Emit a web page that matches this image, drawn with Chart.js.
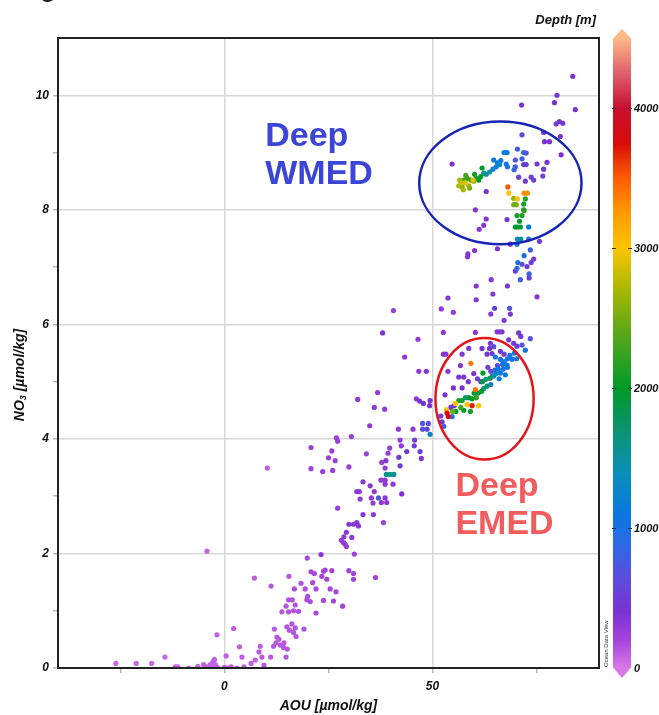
<!DOCTYPE html>
<html>
<head>
<meta charset="utf-8">
<script src="https://cdn.jsdelivr.net/npm/chart.js@4.4.1/dist/chart.umd.min.js"></script>
<style>
  body { margin: 0; background: #fff; }
  canvas { display: block; }
</style>
</head>
<body>
<canvas id="odvChart" width="659" height="715"></canvas>
<script>
// AOU [umol/kg] per sample
const aou = [
  -26.1, -21.2, -17.5, -14.3, -11.8, -11.2, -8.6, -6.4, -5.0, -4.2,
  -3.4, -2.8, -2.2, -1.7, -2.8, -2.4, -1.8, -4.2, 0.4, 0.0,
  0.8, 2.2, 3.6, 4.2, 1.6, 3.0, 4.7, 6.4, 7.4, 8.3,
  8.6, 9.0, 9.5, 7.2, 10.3, 11.2, 11.1, 12.0, 12.6, 11.8,
  12.4, 13.1, 14.2, 14.8, 15.1, 15.5, 13.8, 14.8, 15.4, 15.4,
  16.3, 17.0, 16.6, 17.8, 15.0, 15.6, 16.2, 16.6, 17.0, 17.2,
  14.3, 13.4, 16.8, 18.4, 19.4, 20.0, 19.8, 20.6, 21.2, 22.0,
  19.1, 22.0, 20.8, 21.6, 23.4, 23.8, 24.2, 24.6, 25.8, 19.9,
  23.2, 23.8, 25.4, 26.8, 26.2, 28.4, 29.9, 31.0, 31.0, 31.2,
  28.1, 28.6, 29.0, 29.3, 28.7, 29.3, 30.6, 29.9, 31.0, 31.8,
  32.2, 33.3, 35.8, 38.2, 36.3, 27.2, 31.8, 32.4, 32.6, 33.3,
  35.0, 36.0, 35.3, 35.7, 37.0, 37.7, 38.6, 39.0, 37.6, 38.6,
  38.6, 40.5, 38.9, 39.8, 40.7, 37.8, 38.8, 39.3, 39.7, 38.6,
  42.6, 42.2, 41.9, 42.2, 42.5, 41.8, 43.8, 45.7, 45.6, 47.0,
  47.3, 45.3, 47.6, 49.0, 47.6, 48.7, 49.4, 49.3, 47.8, 34.9,
  34.1, 30.5, 29.9, 26.9, 27.2, 25.8, 25.0, 26.6, 26.0, 23.6,
  20.8, 20.8, 46.9, 40.6, 38.0, 46.5, 43.3, 46.7, 36.8, 32.0,
  36.0, 38.5, 46.1, 48.5, 67.2, 52.6, 60.3, 65.5, 66.1, 66.7,
  70.7, 71.2, 73.5, 68.3, 69.5, 70.3, 71.5, 72.3, 63.9, 63.7,
  64.7, 61.9, 58.7, 52.6, 53.2, 57.1, 63.1, 64.3, 65.1, 66.3,
  66.3, 67.2, 67.2, 67.9, 69.1, 56.7, 53.7, 56.3, 57.5, 59.2,
  59.9, 60.8, 61.6, 62.1, 63.3, 64.0, 65.0, 64.7, 65.6, 66.3,
  66.0, 67.0, 67.5, 68.0, 53.5, 53.8, 54.7, 52.0, 52.3, 52.7,
  53.3, 54.4, 55.2, 55.5, 56.3, 57.1, 57.9, 58.7, 59.5, 58.3,
  59.5, 61.1, 57.5, 59.1, 60.0, 61.0, 61.8, 62.3, 63.1, 64.0,
  60.3, 62.0, 62.8, 63.8, 64.4, 65.3, 65.8, 66.8, 68.0, 68.6,
  69.7, 70.2, 60.5, 56.8, 55.6, 54.8, 53.0, 55.0, 57.1, 58.6,
  49.4, 60.3, 62.9, 62.3, 61.2, 67.9, 70.3, 71.5, 72.0, 70.9,
  69.9, 70.4, 71.1, 73.1, 70.4, 71.2, 73.1, 70.3, 75.7, 68.7,
  65.6, 60.1, 58.5, 58.4, 73.5, 72.0, 74.3, 73.7, 72.7, 71.5,
  70.5, 70.3, 69.9, 73.2, 73.2, 71.1, 64.1, 60.5, 68.0, 64.5,
  75.1, 53.7, 60.5, 52.1, 55.0, 64.9, 68.5, 64.0, 68.7, 79.9,
  79.3, 84.3, 71.4, 79.7, 80.5, 81.3, 71.5, 76.7, 76.9, 78.1,
  80.7, 80.9, 70.4, 71.9, 72.5, 67.2, 67.9, 71.5, 69.9, 66.4,
  65.6, 64.7, 71.9, 72.5, 75.1, 77.5, 76.7, 76.5, 69.9, 69.6,
  67.7, 68.0, 70.7, 72.3, 73.7, 74.3, 54.7, 62.9, 56.5, 56.3,
  57.1, 57.5, 58.3, 58.7, 59.2, 59.9, 60.5, 61.1, 61.6, 61.9,
  62.3, 62.9, 63.7, 64.5, 65.3, 66.1, 59.7, 57.9, 56.9, 58.0,
  60.1, 57.4, 58.9, 68.1, 68.3, 70.4, 72.0, 72.8, 69.5, 72.3,
  69.5, 70.1, 71.9, 71.9, 83.7
];

// NO3 [umol/kg] per sample
const no3 = [
  0.08, 0.08, 0.08, 0.19, 0.02, 0.02, 0.0, 0.03, 0.06, 0.02,
  0.06, 0.03, 0.06, 0.01, 0.11, 0.15, 0.58, 2.04, 0.21, 0.01,
  0.0, 0.69, 0.37, 0.19, 0.02, 0.0, 0.02, 0.08, 0.14, 0.28,
  0.38, 0.19, 0.05, 1.57, 3.49, 1.43, 0.19, 0.68, 0.54, 0.38,
  0.44, 0.5, 0.36, 0.19, 0.33, 1.6, 0.98, 1.08, 0.98, 1.19,
  1.19, 1.1, 1.0, 0.99, 0.72, 0.66, 0.77, 0.62, 0.7, 0.55,
  0.44, 0.4, 1.38, 1.48, 1.38, 1.25, 1.19, 1.16, 1.49, 1.38,
  0.68, 0.96, 1.68, 1.65, 1.6, 1.69, 1.71, 1.55, 1.7, 1.92,
  1.98, 1.18, 1.38, 1.33, 1.17, 1.08, 1.7, 1.65, 1.55, 1.99,
  2.23, 2.19, 2.16, 2.12, 2.29, 2.37, 2.28, 2.51, 2.51, 2.54,
  2.48, 2.68, 2.68, 2.54, 1.58, 2.79, 3.08, 3.08, 2.95, 3.25,
  3.18, 3.08, 2.97, 2.88, 2.97, 2.89, 2.97, 2.89, 3.28, 3.28,
  3.21, 3.21, 3.38, 3.38, 3.38, 3.59, 3.62, 3.75, 3.84, 3.49,
  3.04, 3.53, 3.68, 3.98, 3.88, 4.17, 3.78, 3.98, 3.88, 3.78,
  3.66, 4.17, 4.27, 4.27, 4.17, 4.17, 4.08, 4.58, 4.62, 4.23,
  3.74, 4.04, 3.51, 4.02, 3.96, 3.79, 3.67, 3.62, 3.45, 3.43,
  3.85, 3.48, 4.66, 6.24, 5.85, 5.74, 5.43, 5.18, 4.81, 4.69,
  4.55, 4.52, 4.70, 5.18, 6.07, 5.86, 5.86, 5.87, 5.87, 5.87,
  5.85, 5.79, 5.75, 5.73, 5.67, 5.62, 5.64, 5.55, 5.67, 5.58,
  5.61, 5.58, 5.58, 5.48, 5.48, 5.48, 5.48, 5.49, 5.43, 5.53,
  5.39, 5.48, 5.35, 5.29, 5.39, 5.28, 5.18, 5.08, 5.08, 5.32,
  5.14, 5.05, 5.0, 5.15, 5.25, 5.18, 5.2, 5.1, 5.28, 5.15,
  5.05, 5.22, 5.12, 5.25, 4.45, 4.39, 4.39, 4.4, 4.3, 4.22,
  4.51, 4.55, 4.58, 4.62, 4.67, 4.67, 4.72, 4.72, 4.7, 4.6,
  4.58, 4.58, 4.5, 4.48, 4.8, 4.8, 4.83, 4.88, 4.92, 4.95,
  4.86, 5.0, 5.04, 5.06, 5.1, 5.14, 5.22, 5.3, 5.4, 5.46,
  5.5, 5.4, 4.72, 4.55, 4.48, 4.48, 4.77, 4.89, 4.89, 5.0,
  4.67, 8.0, 7.84, 7.73, 7.66, 7.83, 7.9, 7.9, 7.99, 7.8,
  7.7, 7.7, 7.7, 7.7, 7.49, 7.49, 7.49, 7.4, 7.45, 7.4,
  7.32, 7.29, 7.23, 7.18, 7.3, 7.2, 7.14, 7.08, 7.01, 7.05,
  7.08, 6.98, 6.93, 6.88, 6.81, 6.78, 6.78, 6.67, 6.67, 6.53,
  6.48, 6.46, 6.43, 6.27, 6.21, 6.28, 6.28, 6.18, 6.18, 10.0,
  9.87, 9.75, 9.83, 9.5, 9.54, 9.51, 9.31, 9.35, 9.19, 9.19,
  9.28, 8.96, 9.06, 9.0, 8.99, 9.0, 9.0, 8.89, 8.87, 8.86,
  8.82, 8.87, 8.79, 8.79, 8.8, 8.83, 8.71, 8.59, 8.75, 8.7,
  8.8, 8.75, 8.57, 8.5, 8.57, 8.52, 8.8, 8.32, 8.52, 8.42,
  8.4, 8.52, 8.55, 8.42, 8.52, 8.5, 8.55, 8.52, 8.58, 8.73,
  8.64, 8.62, 8.66, 8.71, 8.75, 8.79, 8.52, 8.47, 8.47, 8.6,
  8.62, 8.35, 8.38, 8.4, 8.29, 8.19, 8.29, 8.29, 8.2, 8.19,
  8.09, 8.09, 8.1, 8.0, 10.33
];

// sample depth [m], used for the colour
const depth = [
  60, 60, 60, 60, 70, 70, 70, 70, 80, 80,
  80, 80, 80, 80, 90, 90, 90, 80, 90, 90,
  90, 100, 100, 100, 100, 100, 100, 100, 100, 110,
  110, 110, 110, 110, 110, 120, 120, 120, 120, 120,
  120, 120, 130, 130, 130, 140, 140, 140, 140, 140,
  150, 150, 150, 150, 140, 140, 140, 140, 140, 140,
  130, 130, 160, 160, 160, 170, 170, 170, 180, 180,
  150, 180, 190, 190, 200, 200, 200, 200, 200, 180,
  320, 190, 200, 200, 200, 200, 220, 220, 220, 230,
  260, 300, 260, 260, 300, 350, 300, 330, 330, 330,
  330, 350, 300, 250, 230, 250, 330, 330, 300, 330,
  330, 300, 300, 300, 700, 330, 330, 330, 300, 300,
  300, 300, 1600, 1600, 1600, 280, 350, 280, 280, 280,
  400, 450, 450, 300, 300, 300, 500, 500, 500, 500,
  350, 300, 700, 700, 650, 600, 1300, 400, 400, 300,
  250, 250, 250, 250, 250, 250, 250, 250, 250, 250,
  230, 230, 400, 250, 400, 300, 300, 300, 300, 300,
  300, 300, 300, 350, 350, 300, 300, 350, 350, 350,
  450, 450, 700, 450, 500, 500, 700, 1000, 400, 400,
  600, 400, 350, 350, 350, 350, 450, 500, 1000, 450,
  1000, 500, 1100, 1100, 1100, 350, 350, 400, 400, 3400,
  450, 450, 500, 2000, 500, 600, 800, 1000, 600, 1100,
  1200, 1000, 1100, 1000, 3800, 3800, 1000, 500, 500, 800,
  3000, 500, 500, 3000, 2100, 2100, 1600, 2000, 2000, 3000,
  3700, 3000, 2000, 2100, 2000, 1800, 2000, 1500, 1800, 1200,
  3400, 1900, 1600, 1800, 1500, 1300, 1100, 1000, 1000, 1100,
  1000, 1000, 2200, 2300, 2000, 2500, 400, 400, 400, 450,
  400, 350, 350, 350, 350, 400, 2100, 2100, 2200, 2000,
  2000, 2000, 1900, 1100, 1400, 1500, 1000, 1000, 450, 400,
  400, 350, 350, 350, 800, 1000, 500, 500, 450, 600,
  1000, 900, 450, 800, 500, 800, 350, 350, 400, 350,
  350, 350, 350, 300, 300, 600, 700, 350, 350, 400,
  400, 400, 400, 450, 450, 450, 600, 400, 400, 400,
  400, 400, 800, 800, 700, 1100, 1100, 800, 700, 1100,
  1200, 1100, 500, 500, 450, 450, 450, 450, 800, 800,
  1000, 1000, 500, 500, 500, 500, 400, 400, 2700, 2700,
  2600, 2300, 2200, 2600, 2200, 2600, 2100, 2000, 2000, 2000,
  1600, 1400, 1500, 1200, 1100, 1300, 2900, 2900, 2800, 2300,
  2100, 2700, 2500, 3500, 3000, 3000, 3300, 3300, 2600, 2200,
  2500, 2500, 2100, 2100, 400
];

const xTicks = [-25, 0, 25, 50, 75];
const xLabels = [0, 50];
const yTicks = [0, 1, 2, 3, 4, 5, 6, 7, 8, 9, 10];
const yLabels = [0, 2, 4, 6, 8, 10];
const depthTicks = [0, 1000, 2000, 3000, 4000];
const depthMax = 4500;

// ODV style palette
const depthStops  = [0, 200, 400, 650, 900, 1100, 1400, 1700, 2000, 2400, 2700, 3000, 3250, 3500, 3750, 4000, 4250, 4500];
const depthColors = ['#d878e6', '#a544dc', '#7a32d2', '#5a4ede', '#2a6ae6', '#0878e2', '#0a90b8', '#0a9470', '#009a28',
                     '#5aa818', '#a8b800', '#fcc400', '#ff9a00', '#ff5c00', '#d80c08', '#c8102e', '#e0606c', '#ffb888'];

const FONT = "'Liberation Sans', Arial, sans-serif";

function hexRgb(h) {
  return [parseInt(h.slice(1, 3), 16), parseInt(h.slice(3, 5), 16), parseInt(h.slice(5, 7), 16)];
}
function depthColor(d) {
  for (let i = 1; i < depthStops.length; i++) {
    if (d <= depthStops[i]) {
      const t = (d - depthStops[i - 1]) / (depthStops[i] - depthStops[i - 1]);
      const a = hexRgb(depthColors[i - 1]), b = hexRgb(depthColors[i]);
      const c = a.map((v, k) => Math.round(v + (b[k] - v) * t));
      return 'rgb(' + c.join(',') + ')';
    }
  }
  return depthColors[depthColors.length - 1];
}

// shallow first so deep samples end up on top
const order = depth.map((d, i) => i).sort((a, b) => depth[a] - depth[b]);
const points = order.map(i => ({ x: aou[i], y: no3[i] }));
const colors = order.map(i => depthColor(depth[i]));

// ellipses and labels, in data units
const regions = [
  { cx: 66.3, cy: 8.47, rx: 19.5, ry: 1.07, color: '#1424b4' },
  { cx: 62.5, cy: 4.70, rx: 11.8, ry: 1.06, color: '#e3141a' }
];
const notes = [
  { lines: ['Deep', 'WMED'], x: 9.8, y: 9.12, color: '#3b46d9' },
  { lines: ['Deep', 'EMED'], x: 55.5, y: 3.0, color: '#f25c5c' }
];

const odvExtras = {
  id: 'odvExtras',
  afterDatasetsDraw(chart) {
    const ctx = chart.ctx, xs = chart.scales.x, ys = chart.scales.y;
    ctx.save();
    regions.forEach(r => {
      const cx = xs.getPixelForValue(r.cx), cy = ys.getPixelForValue(r.cy);
      const rx = xs.getPixelForValue(r.cx + r.rx) - cx;
      const ry = cy - ys.getPixelForValue(r.cy + r.ry);
      ctx.beginPath();
      ctx.ellipse(cx, cy, rx, ry, 0, 0, Math.PI * 2);
      ctx.strokeStyle = r.color;
      ctx.lineWidth = 2.5;
      ctx.stroke();
    });
    ctx.font = 'bold 34px ' + FONT;
    ctx.textAlign = 'left';
    ctx.textBaseline = 'alphabetic';
    notes.forEach(n => {
      ctx.fillStyle = n.color;
      n.lines.forEach((t, k) => {
        ctx.fillText(t, xs.getPixelForValue(n.x), ys.getPixelForValue(n.y) + k * 38);
      });
    });
    ctx.restore();
  },
  afterDraw(chart) {
    const ctx = chart.ctx, a = chart.chartArea;
    ctx.save();
    // frame
    ctx.strokeStyle = '#222';
    ctx.lineWidth = 2;
    ctx.strokeRect(a.left, a.top, a.right - a.left, a.bottom - a.top);

    // axis titles
    ctx.fillStyle = '#111';
    ctx.font = 'italic bold 14px ' + FONT;
    ctx.textAlign = 'center';
    ctx.textBaseline = 'middle';
    ctx.fillText('AOU [µmol/kg]', (a.left + a.right) / 2, 706);

    ctx.save();
    ctx.translate(20, 375);
    ctx.rotate(-Math.PI / 2);
    ctx.textAlign = 'left';
    const p1 = 'NO', p2 = '3', p3 = ' [µmol/kg]';
    ctx.font = 'italic bold 14px ' + FONT;
    const w1 = ctx.measureText(p1).width, w3 = ctx.measureText(p3).width;
    ctx.font = 'italic bold 9px ' + FONT;
    const w2 = ctx.measureText(p2).width;
    let x0 = -(w1 + w2 + w3) / 2;
    ctx.font = 'italic bold 14px ' + FONT;
    ctx.fillText(p1, x0, 0);
    ctx.font = 'italic bold 9px ' + FONT;
    ctx.fillText(p2, x0 + w1, 4);
    ctx.font = 'italic bold 14px ' + FONT;
    ctx.fillText(p3, x0 + w1 + w2, 0);
    ctx.restore();

    // colour bar
    const bx = a.right + 14, bw = 18;
    const toY = d => a.bottom - d / depthMax * (a.bottom - a.top);
    const grad = ctx.createLinearGradient(0, a.bottom, 0, a.top);
    depthStops.forEach((s, i) => grad.addColorStop(s / depthMax, depthColors[i]));
    ctx.fillStyle = grad;
    ctx.fillRect(bx, a.top, bw, a.bottom - a.top);
    ctx.fillStyle = depthColors[depthColors.length - 1];
    ctx.beginPath();
    ctx.moveTo(bx, a.top + 0.5); ctx.lineTo(bx + bw / 2, a.top - 9); ctx.lineTo(bx + bw, a.top + 0.5);
    ctx.closePath(); ctx.fill();
    ctx.fillStyle = depthColors[0];
    ctx.beginPath();
    ctx.moveTo(bx, a.bottom - 0.5); ctx.lineTo(bx + bw / 2, a.bottom + 10); ctx.lineTo(bx + bw, a.bottom - 0.5);
    ctx.closePath(); ctx.fill();

    ctx.strokeStyle = '#333';
    ctx.lineWidth = 1;
    ctx.fillStyle = '#111';
    ctx.font = 'italic bold 11px ' + FONT;
    ctx.textAlign = 'left';
    ctx.textBaseline = 'middle';
    depthTicks.forEach(d => {
      const y = Math.round(toY(d)) + 0.5;
      if (d > 0) {
        ctx.beginPath();
        ctx.moveTo(bx - 1, y); ctx.lineTo(bx + 3, y);
        ctx.moveTo(bx + bw - 3, y); ctx.lineTo(bx + bw + 1, y);
        ctx.stroke();
      }
      ctx.fillText(String(d), bx + bw + 3, y);
    });

    ctx.font = 'italic bold 13px ' + FONT;
    ctx.textAlign = 'right';
    ctx.fillText('Depth [m]', a.right - 3, 20);

    ctx.save();
    ctx.translate(bx - 7, a.bottom - 1);
    ctx.rotate(-Math.PI / 2);
    ctx.font = '6px ' + FONT;
    ctx.fillStyle = '#333';
    ctx.textAlign = 'left';
    ctx.fillText('Ocean Data View', 0, 0);
    ctx.restore();

    // clipped caption letter at the top edge
    ctx.font = 'bold 26px ' + FONT;
    ctx.fillStyle = '#222';
    ctx.textAlign = 'left';
    ctx.textBaseline = 'alphabetic';
    ctx.fillText('g', 40, -3);
    ctx.restore();
  }
};

Chart.defaults.font.family = FONT;

new Chart(document.getElementById('odvChart'), {
  type: 'scatter',
  data: {
    datasets: [{
      label: 'NO3 vs AOU',
      data: points,
      pointBackgroundColor: colors,
      pointBorderWidth: 0,
      pointRadius: 2.6,
      pointHoverRadius: 2.6
    }]
  },
  options: {
    responsive: false,
    animation: false,
    events: [],
    layout: { padding: { top: 38, right: 60, left: 0, bottom: 0 } },
    plugins: { legend: { display: false }, tooltip: { enabled: false } },
    scales: {
      x: {
        type: 'linear',
        min: -40,
        max: 90,
        afterBuildTicks: s => { s.ticks = xTicks.map(v => ({ value: v })); },
        afterFit: s => { s.height = 47; },
        ticks: {
          autoSkip: false,
          maxRotation: 0,
          padding: 6,
          color: '#111',
          font: { size: 12, weight: 'bold', style: 'italic' },
          callback: v => xLabels.includes(v) ? String(v) : ''
        },
        grid: {
          color: c => xLabels.includes(c.tick && c.tick.value) ? '#d8d8d8' : 'rgba(0,0,0,0)',
          tickColor: '#b8b8b8',
          lineWidth: 1.5,
          tickLength: 5
        },
        border: { display: true, color: '#222', width: 2 }
      },
      y: {
        type: 'linear',
        min: 0,
        max: 11,
        afterBuildTicks: s => { s.ticks = yTicks.map(v => ({ value: v })); },
        afterFit: s => { s.width = 58; },
        ticks: {
          autoSkip: false,
          padding: 4,
          color: '#111',
          font: { size: 12, weight: 'bold', style: 'italic' },
          callback: v => yLabels.includes(v) ? String(v) : ''
        },
        grid: {
          color: c => yLabels.includes(c.tick && c.tick.value) ? '#d8d8d8' : 'rgba(0,0,0,0)',
          tickColor: '#b8b8b8',
          lineWidth: 1.5,
          tickLength: 5
        },
        border: { display: true, color: '#222', width: 2 }
      }
    }
  },
  plugins: [odvExtras]
});
</script>
</body>
</html>
